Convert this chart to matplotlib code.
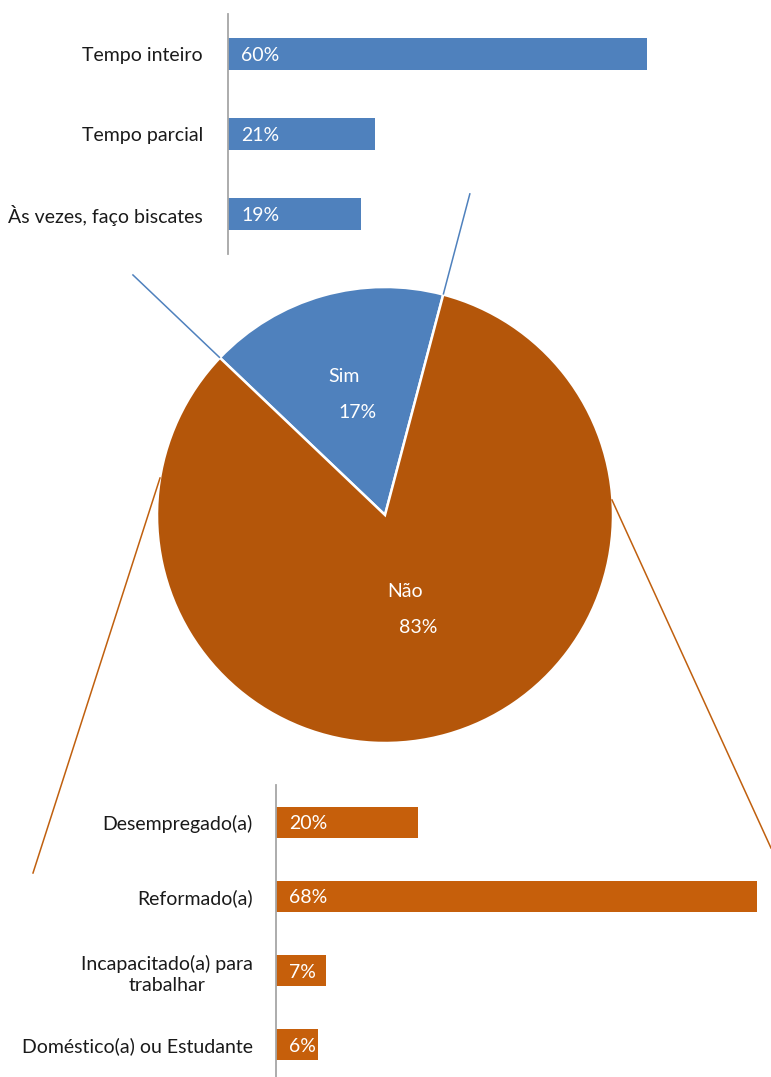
import numpy as np
import matplotlib
matplotlib.use("Agg")
import matplotlib.pyplot as plt

plt.rcParams['font.family'] = ['Lato', 'DejaVu Sans']

# ---- data ----
pie_labels = ["Sim", "Não"]
pie_values = [17, 83]

top_cats = ["Tempo inteiro", "Tempo parcial", "Às vezes, faço biscates"]
top_vals = [60, 21, 19]

bot_cats = ["Desempregado(a)", "Reformado(a)", "Incapacitado(a) para\ntrabalhar",
            "Doméstico(a) ou Estudante"]
bot_vals = [20, 68, 7, 6]

BLUE = "#4F81BD"
PIE_ORANGE = "#B4560A"
BAR_ORANGE = "#C65F0B"
LINE_ORANGE = "#C0600F"
AXIS_GREY = "#A6A6A6"

W, H = 771, 1077
fig = plt.figure(figsize=(W / 100, H / 100), dpi=100)

def px_axes(x0, y0, x1, y1):
    return fig.add_axes([x0 / W, 1 - y1 / H, (x1 - x0) / W, (y1 - y0) / H])

FS = 14

def bar_panel(ax, cats, vals, color, pxpct, width_px, height, pad_px):
    y = np.arange(len(cats))
    ax.barh(y, vals, height=height, color=color)
    ax.set_xlim(0, width_px / pxpct)
    ax.set_ylim(len(cats) - 0.5, -0.5)
    ax.set_yticks(y)
    ax.set_yticklabels(cats, fontsize=FS, color="#1a1a1a")
    for lab in ax.get_yticklabels():
        lab.set_multialignment('center')
        lab.set_linespacing(1.3)
    ax.tick_params(axis='y', length=0, pad=pad_px * 0.72)
    ax.set_xticks([])
    for s in ["top", "right", "bottom"]:
        ax.spines[s].set_visible(False)
    ax.spines["left"].set_color(AXIS_GREY)
    ax.spines["left"].set_linewidth(1.3)
    for yi, v in zip(y, vals):
        ax.text(13 / pxpct, yi + 0.02, f"{v}%", color="white", fontsize=FS,
                va="center", ha="left")

# top bar panel
ax_top = px_axes(228, 14, 771, 254)
bar_panel(ax_top, top_cats, top_vals, BLUE, 6.98, 543, 0.41, 25)

# bottom bar panel
ax_bot = px_axes(276, 785, 771, 1082)
bar_panel(ax_bot, bot_cats, bot_vals, BAR_ORANGE, 7.08, 495, 0.42, 23)

# pie
R = 228
cx, cy = 385, 515
ax_pie = px_axes(cx - R, cy - R, cx + R, cy + R)
start = 75.2
wedges, _ = ax_pie.pie(pie_values, colors=[BLUE, PIE_ORANGE], startangle=start,
                       counterclock=True, radius=1,
                       wedgeprops=dict(edgecolor="white", linewidth=1.8))
ax_pie.set_xlim(-1, 1)
ax_pie.set_ylim(-1, 1)
ax_pie.set_aspect("equal")
ax_pie.axis("off")

# labels
label_r = [0.55, 0.43]
for w, lab, val, r in zip(wedges, pie_labels, pie_values, label_r):
    mid = np.deg2rad((w.theta1 + w.theta2) / 2)
    x, y = r * np.cos(mid), r * np.sin(mid)
    ax_pie.text(x - 0.03, y + 0.08, lab, color="white", fontsize=FS,
                ha="center", va="center")
    ax_pie.text(x + 0.03, y - 0.08, f"{val}%", color="white", fontsize=FS,
                ha="center", va="center")

# blue extension lines along the Sim wedge edges
sim = wedges[0]
for ang, rr in [(sim.theta1, 1.46), (sim.theta2, 1.53)]:
    a = np.deg2rad(ang)
    ax_pie.plot([np.cos(a), rr * np.cos(a)], [np.sin(a), rr * np.sin(a)],
                color=BLUE, lw=1.1, clip_on=False, solid_capstyle="butt")

# orange connector lines from pie to bottom panel (figure pixel coords)
def fig_line(p0, p1, color):
    fig.add_artist(plt.Line2D([p0[0] / W, p1[0] / W],
                              [1 - p0[1] / H, 1 - p1[1] / H],
                              color=color, lw=1.1, transform=fig.transFigure))

fig_line((160, 478), (33, 873), LINE_ORANGE)
fig_line((612, 500), (771, 848), LINE_ORANGE)

fig.savefig("out.png", dpi=100)
